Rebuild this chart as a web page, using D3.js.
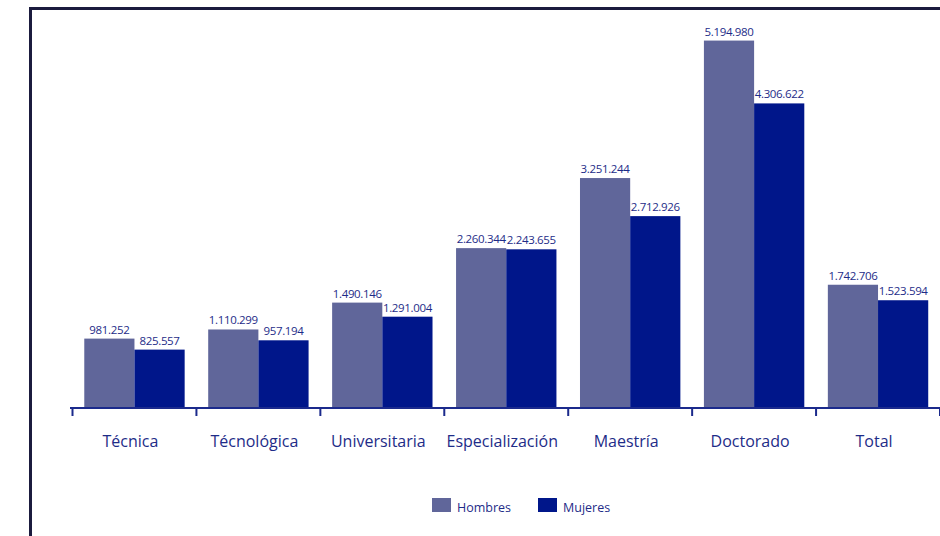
<!DOCTYPE html>
<html>
<head>
<meta charset="utf-8">
<script src="https://cdn.jsdelivr.net/npm/d3@7/dist/d3.min.js"></script>
<style>
  html, body { margin: 0; padding: 0; background: #ffffff; }
  svg { display: block; }
</style>
</head>
<body>
<svg id="chart" width="940" height="536"></svg>
<script>
// Nivel de formación
const categories = ["Técnica", "Técnológica", "Universitaria", "Especialización", "Maestría", "Doctorado", "Total"];
const seriesNames = ["Hombres", "Mujeres"];
const hombres = [981252, 1110299, 1490146, 2260344, 3251244, 5194980, 1742706];
const mujeres = [825557, 957194, 1291004, 2243655, 2712926, 4306622, 1523594];

const colors = { Hombres: "#60669a", Mujeres: "#00168a" };
const textColor = "#1e2c88";
const axisColor = "#1b2a8c";

const svg = d3.select("#chart");
const baseY = 408;

// outer frame (only top and left edges fall inside the canvas)
svg.append("rect")
  .attr("x", 30.5).attr("y", 8.5)
  .attr("width", 1000).attr("height", 600)
  .attr("fill", "none")
  .attr("stroke", "#1b1b3e")
  .attr("stroke-width", 3);

const x0 = d3.scaleBand()
  .domain(categories)
  .range([72.5, 940])
  .paddingInner(0.19)
  .paddingOuter(0.095);

const x1 = d3.scaleBand()
  .domain(seriesNames)
  .range([0, x0.bandwidth()]);

const y = d3.scaleLinear()
  .domain([0, 5500000])
  .range([baseY, 19]);

const rows = categories.map((c, i) => ({
  cat: c,
  values: [
    { key: "Hombres", value: hombres[i] },
    { key: "Mujeres", value: mujeres[i] }
  ]
}));

const fmt = v => d3.format(",")(v).replace(/,/g, ".");

const groups = svg.append("g").selectAll("g")
  .data(rows)
  .join("g")
  .attr("transform", d => `translate(${x0(d.cat)},0)`);

groups.selectAll("rect")
  .data(d => d.values)
  .join("rect")
  .attr("x", d => x1(d.key))
  .attr("y", d => y(d.value))
  .attr("width", x1.bandwidth())
  .attr("height", d => baseY - y(d.value))
  .attr("fill", d => colors[d.key]);

groups.selectAll("text")
  .data(d => d.values)
  .join("text")
  .attr("x", d => x1(d.key) + x1.bandwidth() / 2)
  .attr("y", d => y(d.value) - 5)
  .attr("text-anchor", "middle")
  .attr("font-family", "'Open Sans', sans-serif")
  .attr("font-size", "11.5px")
  .attr("letter-spacing", "-0.35px")
  .attr("fill", textColor)
  .text(d => fmt(d.value));

// category axis
const axisG = svg.append("g");
axisG.append("line")
  .attr("x1", 70).attr("x2", 940)
  .attr("y1", baseY).attr("y2", baseY)
  .attr("stroke", axisColor)
  .attr("stroke-width", 2);

const step = x0.step();
const bounds = d3.range(categories.length + 1).map(i => x0.range()[0] + i * step);
axisG.selectAll("line.tick")
  .data(bounds)
  .join("line")
  .attr("class", "tick")
  .attr("x1", d => d).attr("x2", d => d)
  .attr("y1", baseY).attr("y2", baseY + 8)
  .attr("stroke", axisColor)
  .attr("stroke-width", 2);

axisG.selectAll("text")
  .data(categories)
  .join("text")
  .attr("x", d => x0(d) + x0.bandwidth() / 2 - 4)
  .attr("y", 447)
  .attr("text-anchor", "middle")
  .attr("font-family", "'Open Sans', sans-serif")
  .attr("font-size", "16px")
  .attr("fill", textColor)
  .text(d => d);

// legend
const legend = svg.append("g").attr("transform", "translate(432,498)");
const legendItems = legend.selectAll("g")
  .data(seriesNames)
  .join("g")
  .attr("transform", (d, i) => `translate(${i * 106},0)`);
legendItems.append("rect")
  .attr("width", 19).attr("height", 14)
  .attr("fill", d => colors[d]);
legendItems.append("text")
  .attr("x", 25).attr("y", 13.5)
  .attr("font-family", "'Open Sans', sans-serif")
  .attr("font-size", "12.5px")
  .attr("fill", textColor)
  .text(d => d);
</script>
</body>
</html>
